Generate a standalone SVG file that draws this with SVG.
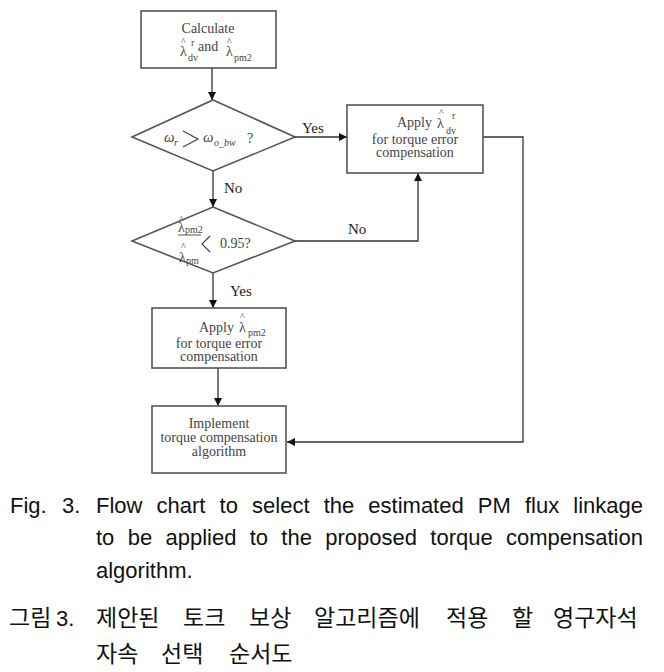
<svg xmlns="http://www.w3.org/2000/svg" width="664" height="672" viewBox="0 0 664 672">
<defs>
<marker id="ah" viewBox="0 0 10 10" refX="10" refY="5" markerWidth="9" markerHeight="8" markerUnits="userSpaceOnUse" orient="auto">
<path d="M0,0 L10,5 L0,10 z" fill="#111"/>
</marker>
<style>
.box{fill:#fff;stroke:#555;stroke-width:1.6}
.ln{fill:none;stroke:#333;stroke-width:1.3}
.t{font-family:"Liberation Serif","Times New Roman",serif;font-size:14px;fill:#444}
.lb{font-family:"Liberation Serif","Times New Roman",serif;font-size:15px;fill:#222}
.s{font-size:10px}
.h{font-size:10px}
.cap{font-family:"Liberation Sans",Arial,sans-serif;font-size:22px;fill:#111}
.kr{font-family:"Noto Sans CJK KR","Liberation Sans",sans-serif;font-size:23px;fill:#111}
</style>
</defs>
<rect width="664" height="672" fill="#fff"/>

<g id="connectors">
<line class="ln" x1="212" y1="68" x2="212" y2="100" marker-end="url(#ah)"/>
<line class="ln" x1="213" y1="171" x2="213" y2="207" marker-end="url(#ah)"/>
<line class="ln" x1="213" y1="273" x2="213" y2="308" marker-end="url(#ah)"/>
<line class="ln" x1="218" y1="368" x2="218" y2="406" marker-end="url(#ah)"/>
<line class="ln" x1="295" y1="137" x2="347" y2="137" marker-end="url(#ah)"/>
<polyline class="ln" points="295,241 418,241 418,173" marker-end="url(#ah)"/>
<polyline class="ln" points="483,137 523,137 523,442 287,442" marker-end="url(#ah)"/>
<text class="lb" x="302" y="133">Yes</text>
<text class="lb" x="224" y="193">No</text>
<text class="lb" x="348" y="234">No</text>
<text class="lb" x="230" y="296">Yes</text>
</g>

<g id="calc">
<rect class="box" x="141" y="11" width="135" height="57"/>
<text class="t" x="208" y="33" text-anchor="middle">Calculate</text>
<text class="t"><tspan class="h" x="181" y="45">^</tspan><tspan x="180" y="56">λ</tspan><tspan class="s" x="188" y="61">dv</tspan><tspan class="s" x="191" y="46">r</tspan><tspan x="198" y="51">and</tspan><tspan class="h" x="227" y="45">^</tspan><tspan x="226" y="56">λ</tspan><tspan class="s" x="234" y="61">pm2</tspan></text>
</g>

<g id="dec1">
<polygon class="box" points="213,100 295,137 213,171 132,137"/>
<text class="t" font-style="italic"><tspan x="164" y="142" font-size="15">ω</tspan><tspan class="s" x="174" y="146">r</tspan></text>
<path d="M183,131 L198,139 L183,147" fill="none" stroke="#444" stroke-width="1.2"/>
<text class="t" font-style="italic"><tspan x="203" y="142" font-size="15">ω</tspan><tspan class="s" x="214" y="146">o_bw</tspan></text>
<text class="t" x="247" y="143" font-size="15">?</text>
</g>

<g id="apply1">
<rect class="box" x="347" y="105" width="136" height="68"/>
<text class="t"><tspan x="397" y="127">Apply</tspan><tspan class="h" x="439" y="116">^</tspan><tspan x="437" y="128">λ</tspan><tspan class="s" x="452" y="119">r</tspan><tspan class="s" x="446" y="134">dv</tspan></text>
<text class="t" x="415" y="144" text-anchor="middle">for torque error</text>
<text class="t" x="415" y="157" text-anchor="middle">compensation</text>
</g>

<g id="dec2">
<polygon class="box" points="213,207 295,241 213,273 132,241"/>
<text class="t" font-size="13"><tspan class="h" x="179" y="223">^</tspan><tspan x="178" y="232">λ</tspan><tspan class="s" x="185" y="233" font-size="9">pm2</tspan></text>
<text class="t" font-size="13"><tspan class="h" x="181" y="250">^</tspan><tspan x="179" y="262">λ</tspan><tspan class="s" x="186" y="264" font-size="9">pm</tspan></text>
<line x1="178" y1="235" x2="201" y2="235" stroke="#444" stroke-width="0.9"/>
<path d="M210,236 L202,244 L210,252" fill="none" stroke="#444" stroke-width="1.2"/>
<text class="t" x="220" y="248">0.95?</text>
</g>

<g id="apply2">
<rect class="box" x="152" y="308" width="134" height="60"/>
<text class="t"><tspan x="199" y="332">Apply</tspan><tspan class="h" x="240" y="320">^</tspan><tspan x="239" y="332">λ</tspan><tspan class="s" x="248" y="336">pm2</tspan></text>
<text class="t" x="219" y="348" text-anchor="middle">for torque error</text>
<text class="t" x="219" y="361" text-anchor="middle">compensation</text>
</g>

<g id="implement">
<rect class="box" x="152" y="406" width="134" height="67"/>
<text class="t" x="219" y="428" text-anchor="middle">Implement</text>
<text class="t" x="219" y="442" text-anchor="middle">torque compensation</text>
<text class="t" x="219" y="456" text-anchor="middle">algorithm</text>
</g>

<g id="caption">
<text class="cap" x="10" y="513">Fig.</text>
<text class="cap" x="62" y="513">3.</text>
<text class="cap" x="96" y="513" word-spacing="8">Flow chart to select the estimated PM flux linkage</text>
<text class="cap" x="96" y="545" word-spacing="7.2">to be applied to the proposed torque compensation</text>
<text class="cap" x="96" y="578">algorithm.</text>
<text class="kr" x="9" y="626" font-size="21">그림</text>
<text class="cap" x="56" y="626">3.</text>
<text class="kr" x="96" y="626">제안된</text>
<text class="kr" x="183" y="626">토크</text>
<text class="kr" x="249" y="626">보상</text>
<text class="kr" x="314" y="626">알고리즘에</text>
<text class="kr" x="446" y="626">적용</text>
<text class="kr" x="512" y="626">할</text>
<text class="kr" x="553" y="626">영구자석</text>
<text class="kr" x="96" y="662">자속</text>
<text class="kr" x="161" y="662">선택</text>
<text class="kr" x="229" y="662">순서도</text>
</g>
</svg>
